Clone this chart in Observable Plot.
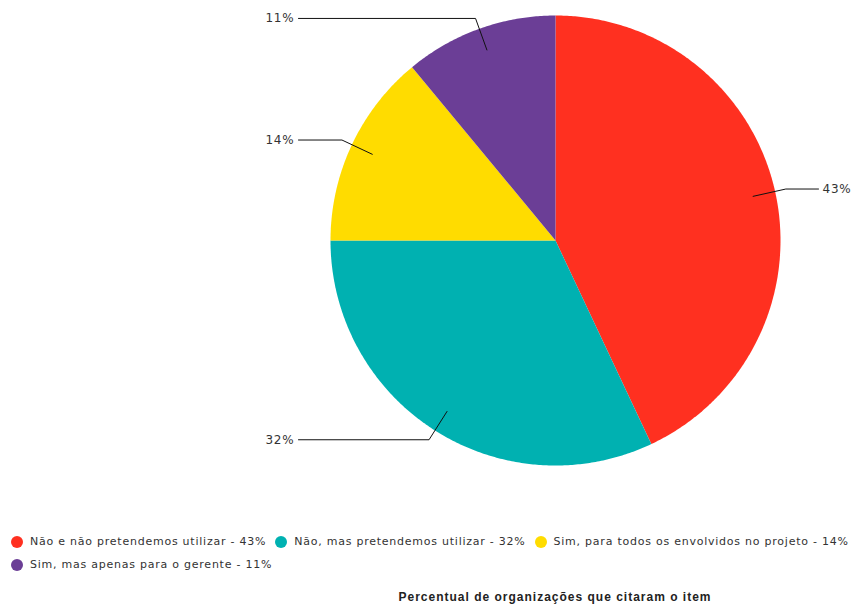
<!DOCTYPE html>
<html>
<head>
<meta charset="utf-8">
<script src="https://cdn.jsdelivr.net/npm/d3@7"></script>
<script src="https://cdn.jsdelivr.net/npm/@observablehq/plot@0.6"></script>
<style>
  html, body { margin: 0; padding: 0; background: #fff; }
  #chart svg { display: block; }
  .legend { font-family: "DejaVu Sans", sans-serif; font-size: 11px; letter-spacing: 0.76px; color: #333; padding-left: 11px; }
  .row { height: 23px; display: flex; align-items: center; white-space: nowrap; }
  .item { display: flex; align-items: center; margin-right: 9px; }
  .sw { width: 12px; height: 12px; border-radius: 50%; margin-right: 7px; flex: none; }
  .caption { font-family: "Liberation Sans", Arial, sans-serif; font-weight: bold; font-size: 12px; letter-spacing: 1px; color: #222;
             margin-top: 13px; line-height: 16px; padding-left: 555px; }
  .caption span { display: inline-block; transform: translateX(-50%); white-space: nowrap; }
</style>
</head>
<body>
<div id="chart"></div>
<script>
const categories = [
  "Não e não pretendemos utilizar",
  "Não, mas pretendemos utilizar",
  "Sim, para todos os envolvidos no projeto",
  "Sim, mas apenas para o gerente"
];
const values = [43, 32, 14, 11];
const colors = ["#ff3020", "#00b1b1", "#ffdc00", "#6b3e96"];
const captionText = "Percentual de organizações que citaram o item";

const W = 858, H = 530;
const cx = 555, cy = 240, R = 225;

const arcs = d3.pie().sort(null).value(d => d.value)(
  categories.map((c, i) => ({category: c, value: values[i]}))
);

const pt = (a, r) => [cx + r * Math.sin(a), cy - r * Math.cos(a)];

// slice polygons
const slicePts = [];
for (const a of arcs) {
  const c = a.data.category;
  slicePts.push({category: c, x: cx, y: cy});
  const n = Math.max(2, Math.ceil((a.endAngle - a.startAngle) / (Math.PI / 360)));
  for (let k = 0; k <= n; k++) {
    const ang = a.startAngle + (a.endAngle - a.startAngle) * k / n;
    const [x, y] = pt(ang, R);
    slicePts.push({category: c, x, y});
  }
  slicePts.push({category: c, x: cx, y: cy});
}

// leader lines and labels
const leaderPts = [];
const labels = [];
for (const a of arcs) {
  const mid = (a.startAngle + a.endAngle) / 2;
  const [x0, y0] = pt(mid, R * 0.9);
  const [x1, y1] = pt(mid, R + 11);
  const right = Math.sin(mid) >= 0;
  const x2 = right ? cx + 263 : cx - 257;
  const c = a.data.category;
  leaderPts.push({category: c, x: x0, y: y0}, {category: c, x: x1, y: y1}, {category: c, x: x2, y: y1});
  labels.push({text: a.data.value + "%", x: right ? x2 + 4 : x2 - 4, y: y1, anchor: right ? "start" : "end"});
}

const plot = Plot.plot({
  width: W, height: H, margin: 0,
  x: {domain: [0, W], range: [0, W], axis: null},
  y: {domain: [0, H], range: [0, H], axis: null},
  color: {domain: categories, range: colors},
  style: {background: "#fff"},
  marks: [
    Plot.line(slicePts, {x: "x", y: "y", z: "category", fill: "category", stroke: "none", curve: "linear"}),
    Plot.line(leaderPts, {x: "x", y: "y", z: "category", stroke: "#111", strokeWidth: 1, curve: "linear"}),
    Plot.text(labels.filter(d => d.anchor === "start"), {x: "x", y: "y", text: "text", textAnchor: "start",
      fontSize: 12, fill: "#333", fontFamily: "DejaVu Sans"}),
    Plot.text(labels.filter(d => d.anchor === "end"), {x: "x", y: "y", text: "text", textAnchor: "end",
      fontSize: 12, fill: "#333", fontFamily: "DejaVu Sans"})
  ]
});
plot.querySelectorAll("text").forEach(t => t.style.letterSpacing = "0.8px");
document.getElementById("chart").appendChild(plot);

// legend
const legend = document.createElement("div");
legend.className = "legend";
const rows = [[0, 1, 2], [3]];
for (const r of rows) {
  const row = document.createElement("div");
  row.className = "row";
  for (const i of r) {
    const item = document.createElement("div");
    item.className = "item";
    const sw = document.createElement("span");
    sw.className = "sw";
    sw.style.background = colors[i];
    const t = document.createElement("span");
    t.textContent = categories[i] + " - " + values[i] + "%";
    item.appendChild(sw); item.appendChild(t);
    row.appendChild(item);
  }
  legend.appendChild(row);
}
document.body.appendChild(legend);

const cap = document.createElement("div");
cap.className = "caption";
const cs = document.createElement("span");
cs.textContent = captionText;
cap.appendChild(cs);
document.body.appendChild(cap);
</script>
</body>
</html>
